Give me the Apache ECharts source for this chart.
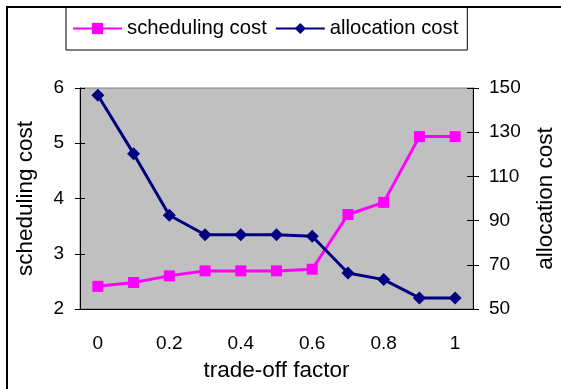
<!DOCTYPE html>
<html><head><meta charset="utf-8">
<script src="https://cdn.jsdelivr.net/npm/echarts@6/dist/echarts.min.js"></script>
<style>html,body{margin:0;padding:0;background:#fff}#c{width:561px;height:389px}</style>
</head><body><div id="c"></div>
<script>
const categories = ['0','0.1','0.2','0.3','0.4','0.5','0.6','0.7','0.8','0.9','1'];
const schedulingCost = [2.41, 2.48, 2.60, 2.69, 2.69, 2.69, 2.72, 3.71, 3.93, 5.12, 5.12];
const allocationCost = [146.7, 120.3, 92.4, 83.6, 83.6, 83.6, 82.9, 66.3, 63.3, 55.0, 55.0];
const leftTicks = {min: 2, max: 6, interval: 1};
const rightTicks = {min: 50, max: 150, interval: 20};

const FONT = 'Arial, "Liberation Sans", sans-serif';
const chart = echarts.init(document.getElementById('c'), null, {renderer: 'canvas'});
const tickText = {color: '#000', fontSize: 19, fontFamily: FONT};
const titleText = {color: '#000', fontSize: 22.5, fontFamily: FONT};
chart.setOption({
  animation: false,
  backgroundColor: '#fff',
  graphic: [{
    type: 'rect', z: 100, silent: true,
    shape: {x: 7, y: 7, width: 800, height: 600},
    style: {fill: 'none', stroke: '#000', lineWidth: 2}
  }],
  legend: {
    left: 66, top: 7,
    padding: [11, 9, 11, 6],
    itemGap: 8, itemWidth: 49, itemHeight: 14,
    borderColor: '#000', borderWidth: 1, backgroundColor: '#fff',
    textStyle: {color: '#000', fontSize: 20.3, fontFamily: FONT, lineHeight: 21},
    data: ['scheduling cost', 'allocation cost']
  },
  grid: {
    left: 80, right: 88, top: 88, bottom: 80,
    outerBoundsMode: 'none', containLabel: false,
    show: true, backgroundColor: '#C0C0C0', borderColor: '#808080', borderWidth: 1
  },
  xAxis: [{
    type: 'category', data: categories, boundaryGap: true, position: 'bottom',
    name: 'trade-off factor', nameLocation: 'middle', nameGap: 50,
    nameTextStyle: titleText,
    axisLine: {lineStyle: {color: '#000', width: 1}},
    axisTick: {interval: 1, length: 5, inside: false, lineStyle: {color: '#000'}},
    axisLabel: Object.assign({interval: 1, margin: 25}, tickText),
    splitLine: {show: false}
  }, {
    type: 'category', data: categories, boundaryGap: true, position: 'bottom',
    axisLine: {show: false},
    axisTick: {interval: 1, length: 5, inside: true, lineStyle: {color: '#000'}},
    axisLabel: {show: false}, splitLine: {show: false}
  }],
  yAxis: [{
    type: 'value', position: 'left', min: leftTicks.min, max: leftTicks.max, interval: leftTicks.interval,
    name: 'scheduling cost', nameLocation: 'middle', nameGap: 43, nameRotate: 90,
    nameTextStyle: titleText,
    axisLine: {show: true, lineStyle: {color: '#000', width: 1}},
    axisTick: {show: true, length: 5, lineStyle: {color: '#000'}},
    axisLabel: Object.assign({margin: 16}, tickText),
    splitLine: {show: false}
  }, {
    type: 'value', position: 'right', min: rightTicks.min, max: rightTicks.max, interval: rightTicks.interval,
    name: 'allocation cost', nameLocation: 'middle', nameGap: 61, nameRotate: 90,
    nameTextStyle: titleText,
    axisLine: {show: true, lineStyle: {color: '#000', width: 1}},
    axisTick: {show: true, length: 6, lineStyle: {color: '#000'}},
    axisLabel: Object.assign({margin: 16}, tickText),
    splitLine: {show: false}
  }, {
    type: 'value', position: 'left', min: leftTicks.min, max: leftTicks.max, interval: leftTicks.interval,
    axisLine: {show: false},
    axisTick: {show: true, inside: true, length: 5, lineStyle: {color: '#000'}},
    axisLabel: {show: false}, splitLine: {show: false}
  }, {
    type: 'value', position: 'right', min: rightTicks.min, max: rightTicks.max, interval: rightTicks.interval,
    axisLine: {show: false},
    axisTick: {show: true, inside: true, length: 6, lineStyle: {color: '#000'}},
    axisLabel: {show: false}, splitLine: {show: false}
  }],
  series: [{
    name: 'scheduling cost', type: 'line', xAxisIndex: 0, yAxisIndex: 0,
    data: schedulingCost,
    symbol: 'rect', symbolSize: 11,
    lineStyle: {color: '#FF00FF', width: 3},
    itemStyle: {color: '#FF00FF'}
  }, {
    name: 'allocation cost', type: 'line', xAxisIndex: 0, yAxisIndex: 1,
    data: allocationCost,
    symbol: 'diamond', symbolSize: 13,
    lineStyle: {color: '#000080', width: 3},
    itemStyle: {color: '#000080'}
  }]
});
</script></body></html>
